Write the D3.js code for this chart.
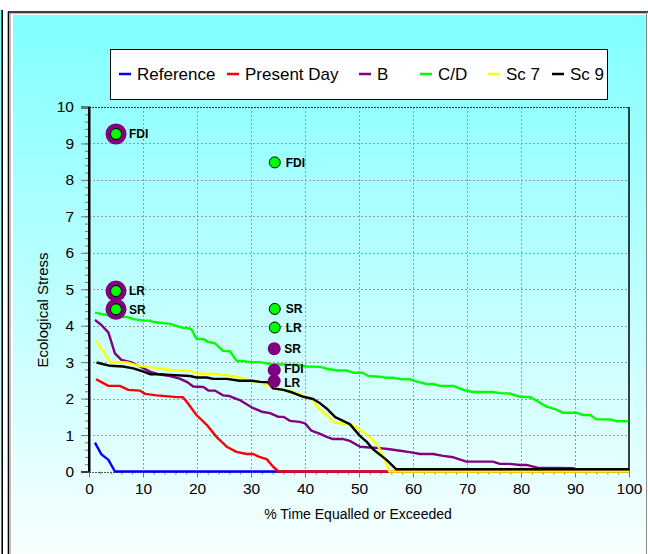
<!DOCTYPE html>
<html>
<head>
<meta charset="utf-8">
<script src="https://cdn.jsdelivr.net/npm/d3@7"></script>
<style>
  body { margin: 0; background: #fff; }
  svg { display: block; font-family: "Liberation Sans", Arial, sans-serif; }
</style>
</head>
<body>
<div id="chart"></div>
<script>
const WIDTH = 648
const HEIGHT = 554

// series names + colours (legend order = draw order)
const seriesNames = ['Reference', 'Present Day', 'B', 'C/D', 'Sc 7', 'Sc 9']
const seriesColors = ['#0000ff', '#ff0000', '#800080', '#00ff00', '#ffff00', '#000000']

// % time equalled or exceeded, ecological stress
const reference = [[1.1, 0.79], [2.3, 0.47], [3.6, 0.32], [4.8, 0], [100, 0]]
const presentDay = [[1.3, 2.53], [2.2, 2.46], [3.6, 2.35], [5.7, 2.35], [7.3, 2.24], [9.4, 2.22], [10.4, 2.13],
  [12.5, 2.09], [14.7, 2.06], [16.2, 2.04], [17.4, 2.04], [18.3, 1.87], [19.9, 1.55], [21.8, 1.28], [23.6, 0.95],
  [25.5, 0.68], [27.3, 0.54], [29.2, 0.48], [30.4, 0.48], [31.4, 0.41], [32.9, 0.34], [34.1, 0.13], [35.1, 0], [100, 0]]
const scenarioB = [[1.1, 4.16], [2.3, 4.02], [3.6, 3.81], [4.8, 3.24], [6.0, 3.06], [7.9, 2.99], [9.4, 2.88],
  [11.3, 2.74], [13.1, 2.66], [15.0, 2.62], [16.8, 2.55], [18.1, 2.46], [19.3, 2.33], [21.2, 2.32], [22.1, 2.22],
  [23.3, 2.22], [24.8, 2.09], [26.0, 2.07], [27.9, 1.96], [30.1, 1.76], [32.0, 1.64], [33.5, 1.6], [35.1, 1.5],
  [36.0, 1.5], [37.2, 1.39], [39.0, 1.36], [40.0, 1.32], [41.2, 1.12], [42.8, 1.03], [44.0, 0.95], [45.2, 0.89],
  [47.1, 0.89], [48.3, 0.84], [50.2, 0.68], [52.0, 0.66], [53.9, 0.64], [55.7, 0.61], [57.6, 0.57], [59.4, 0.53],
  [61.3, 0.48], [63.7, 0.48], [65.6, 0.43], [67.5, 0.39], [69.9, 0.27], [74.8, 0.27], [76.1, 0.21], [77.9, 0.21],
  [79.8, 0.18], [81.0, 0.18], [83.2, 0.1], [86.6, 0.1], [89.7, 0.09], [90.5, 0], [100, 0]]
const scenarioCD = [[1.1, 4.36], [4.8, 4.25], [7.0, 4.24], [8.2, 4.18], [10.1, 4.14], [11.3, 4.14], [11.9, 4.1],
  [15.0, 4.05], [17.4, 3.94], [18.4, 3.93], [19.0, 3.9], [19.9, 3.64], [21.2, 3.63], [22.1, 3.55], [23.3, 3.52],
  [24.8, 3.31], [26.1, 3.3], [27.3, 3.04], [28.5, 3.03], [29.8, 3.0], [31.6, 3.0], [33.5, 2.95], [36.6, 2.93],
  [39.0, 2.92], [40.3, 2.88], [42.8, 2.87], [44.0, 2.82], [45.9, 2.77], [47.7, 2.77], [48.9, 2.71], [50.7, 2.71],
  [51.7, 2.62], [53.9, 2.6], [55.1, 2.57], [56.4, 2.57], [57.9, 2.53], [59.4, 2.53], [60.9, 2.46], [62.5, 2.4],
  [63.7, 2.4], [65.0, 2.35], [67.5, 2.35], [69.3, 2.24], [71.1, 2.18], [74.8, 2.18], [76.1, 2.15], [77.9, 2.14],
  [79.8, 2.05], [81.7, 2.04], [82.9, 1.94], [84.7, 1.78], [86.3, 1.71], [87.8, 1.61], [90.3, 1.61], [91.5, 1.55],
  [92.8, 1.55], [94.0, 1.43], [96.5, 1.43], [97.7, 1.38], [99.9, 1.38]]
const scenario7 = [[1.3, 3.59], [2.5, 3.33], [3.9, 3.01], [7.0, 2.99], [9.4, 2.89], [11.9, 2.85], [14.4, 2.8],
  [16.2, 2.77], [18.7, 2.76], [19.9, 2.69], [23.0, 2.68], [25.5, 2.64], [27.3, 2.6], [29.2, 2.51], [31.0, 2.46],
  [32.9, 2.4], [34.1, 2.28], [36.0, 2.24], [37.8, 2.19], [40.3, 2.04], [41.5, 1.96], [42.5, 1.73], [44.0, 1.55],
  [45.6, 1.33], [48.3, 1.3], [49.6, 1.21], [50.7, 1.09], [52.3, 0.91], [53.6, 0.68], [54.5, 0.41], [55.6, 0], [100, 0]]
const scenario9 = [[1.4, 2.99], [3.9, 2.9], [6.3, 2.88], [8.2, 2.83], [10.1, 2.74], [11.3, 2.67], [13.1, 2.67],
  [15.0, 2.65], [18.7, 2.62], [19.9, 2.58], [21.8, 2.58], [23.0, 2.54], [25.5, 2.54], [27.9, 2.49], [30.1, 2.49],
  [31.7, 2.46], [33.2, 2.45], [34.1, 2.28], [36.0, 2.24], [37.8, 2.16], [39.7, 2.05], [41.5, 1.99], [42.8, 1.87],
  [44.0, 1.73], [45.6, 1.49], [48.3, 1.3], [50.2, 0.97], [51.4, 0.82], [52.6, 0.61], [55.1, 0.32], [56.9, 0.06], [100, 0.06]]
const allSeries = [reference, presentDay, scenarioB, scenarioCD, scenario7, scenario9]

// point markers: [x, y, label]
const ringMarkers = [[5.0, 9.26, 'FDI'], [5.0, 4.95, 'LR'], [5.0, 4.45, 'SR']]
const greenMarkers = [[34.4, 8.48, 'FDI'], [34.4, 4.46, 'SR'], [34.4, 3.95, 'LR']]
const purpleMarkers = [[34.3, 3.37, 'SR'], [34.3, 2.78, 'FDI'], [34.3, 2.48, 'LR']]

const xTicks = d3.range(0, 101, 10)
const yTicks = d3.range(0, 11, 1)

const svg = d3.select('#chart').append('svg')
  .attr('width', WIDTH)
  .attr('height', HEIGHT)

const defs = svg.append('defs')
const grad = defs.append('linearGradient')
  .attr('id', 'bg')
  .attr('gradientUnits', 'userSpaceOnUse')
  .attr('x1', 0).attr('y1', 15).attr('x2', 0).attr('y2', HEIGHT)
grad.append('stop').attr('offset', 0).attr('stop-color', '#80ffff')
grad.append('stop').attr('offset', 1).attr('stop-color', '#f8ffff')

// frame bits
svg.append('rect').attr('x', 0).attr('y', 10).attr('width', 1.5).attr('height', HEIGHT - 10).attr('fill', 'url(#bg)')
svg.append('line').attr('x1', 2.2).attr('x2', 2.2).attr('y1', 10).attr('y2', HEIGHT)
  .attr('stroke', '#000').attr('stroke-width', 1.6)
svg.append('rect').attr('x', 13).attr('y', 15).attr('width', 633).attr('height', HEIGHT - 15).attr('fill', 'url(#bg)')
svg.append('line').attr('x1', 8.5).attr('x2', 8.5).attr('y1', 11.5).attr('y2', HEIGHT)
  .attr('stroke', '#000').attr('stroke-width', 1.6)
svg.append('line').attr('x1', 8).attr('x2', WIDTH).attr('y1', 12).attr('y2', 12)
  .attr('stroke', '#000').attr('stroke-width', 1.6)
svg.append('line').attr('x1', 10.5).attr('x2', 10.5).attr('y1', 13.5).attr('y2', HEIGHT)
  .attr('stroke', '#bbb').attr('stroke-width', 1)
svg.append('line').attr('x1', 10).attr('x2', 646).attr('y1', 13.5).attr('y2', 13.5)
  .attr('stroke', '#bbb').attr('stroke-width', 1)
svg.append('line').attr('x1', 646.5).attr('x2', 646.5).attr('y1', 12).attr('y2', HEIGHT)
  .attr('stroke', '#888').attr('stroke-width', 1)

const x = d3.scaleLinear().domain([0, 100]).range([89, 629])
const y = d3.scaleLinear().domain([0, 10]).range([471.5, 107])

// grid
const grid = svg.append('g')
grid.selectAll('.vg').data(xTicks.slice(1, -1)).enter().append('line')
  .attr('x1', d => Math.round(x(d)) + 0.5).attr('x2', d => Math.round(x(d)) + 0.5)
  .attr('y1', y(10)).attr('y2', y(0))
  .attr('stroke', '#999').attr('stroke-dasharray', '2,2')
grid.selectAll('.hg').data(yTicks.slice(1, -1)).enter().append('line')
  .attr('x1', x(0)).attr('x2', x(100))
  .attr('y1', d => Math.round(y(d)) + 0.5).attr('y2', d => Math.round(y(d)) + 0.5)
  .attr('stroke', '#999').attr('stroke-dasharray', '2,2')

// top + bottom border (dotted), right border solid
svg.append('line').attr('x1', x(0)).attr('x2', x(100)).attr('y1', Math.round(y(10)) + 0.5).attr('y2', Math.round(y(10)) + 0.5)
  .attr('stroke', '#333').attr('stroke-dasharray', '2,1')
svg.append('line').attr('x1', x(0)).attr('x2', x(100)).attr('y1', Math.round(y(0)) + 0.5).attr('y2', Math.round(y(0)) + 0.5)
  .attr('stroke', '#555').attr('stroke-dasharray', '2,1')
svg.append('line').attr('x1', x(100)).attr('x2', x(100)).attr('y1', y(10)).attr('y2', y(0))
  .attr('stroke', '#000').attr('stroke-width', 1.5)

// axes
const yMinor = svg.append('g').attr('transform', `translate(${x(0)},0)`)
  .call(d3.axisLeft(y).tickValues(d3.range(0, 10.01, 0.2)).tickSize(4).tickFormat(''))
yMinor.select('.domain').remove()
yMinor.selectAll('line').attr('stroke', '#777')

const yAxis = svg.append('g').attr('transform', `translate(${x(0)},0)`)
  .call(d3.axisLeft(y).tickValues(yTicks).tickSize(8).tickPadding(7).tickFormat(d3.format('d')))
yAxis.select('.domain').attr('stroke', '#000').attr('stroke-width', 2)
yAxis.selectAll('line').attr('stroke', '#777')
yAxis.selectAll('text').attr('font-size', 15.5).attr('fill', '#000')
  .attr('font-family', '"Liberation Sans", Arial, sans-serif')

const xMinor = svg.append('g').attr('transform', `translate(0,${y(0)})`)
  .call(d3.axisBottom(x).tickValues(d3.range(0, 100.01, 2)).tickSize(3).tickFormat(''))
xMinor.select('.domain').remove()
xMinor.selectAll('line').attr('stroke', '#777')

const xAxis = svg.append('g').attr('transform', `translate(0,${y(0)})`)
  .call(d3.axisBottom(x).tickValues(xTicks).tickSize(6).tickPadding(5).tickFormat(d3.format('d')))
xAxis.select('.domain').remove()
xAxis.selectAll('line').attr('stroke', '#777')
xAxis.selectAll('text').attr('font-size', 15.5).attr('fill', '#000')
  .attr('font-family', '"Liberation Sans", Arial, sans-serif')

// titles
svg.append('text')
  .attr('x', 358).attr('y', 519)
  .attr('text-anchor', 'middle')
  .attr('font-size', 14)
  .text('% Time Equalled or Exceeded')
svg.append('text')
  .attr('transform', 'translate(48,310) rotate(-90)')
  .attr('text-anchor', 'middle')
  .attr('font-size', 15)
  .text('Ecological Stress')

// series lines
const line = d3.line().x(d => x(d[0])).y(d => y(d[1]))
svg.append('g').selectAll('path')
  .data(allSeries)
  .enter().append('path')
  .attr('d', line)
  .attr('fill', 'none')
  .attr('stroke', (d, i) => seriesColors[i])
  .attr('stroke-width', 2.4)
  .attr('stroke-linejoin', 'round')

// left axis drawn again on top so lines don't cover it
svg.append('line').attr('x1', x(0)).attr('x2', x(0)).attr('y1', y(10)).attr('y2', y(0))
  .attr('stroke', '#000').attr('stroke-width', 2)

// markers
const mk = svg.append('g')
mk.selectAll('.ring').data(ringMarkers).enter().append('circle')
  .attr('cx', d => x(d[0])).attr('cy', d => y(d[1])).attr('r', 10.5)
  .attr('fill', '#800080')
mk.selectAll('.ringIn').data(ringMarkers).enter().append('circle')
  .attr('cx', d => x(d[0])).attr('cy', d => y(d[1])).attr('r', 5.5)
  .attr('fill', '#00ff00').attr('stroke', '#000').attr('stroke-width', 1)
mk.selectAll('.grn').data(greenMarkers).enter().append('circle')
  .attr('cx', d => x(d[0])).attr('cy', d => y(d[1])).attr('r', 5.5)
  .attr('fill', '#00ff00').attr('stroke', '#000').attr('stroke-width', 1)
mk.selectAll('.prp').data(purpleMarkers).enter().append('circle')
  .attr('cx', d => x(d[0])).attr('cy', d => y(d[1])).attr('r', 6.5)
  .attr('fill', '#800080')

// the FDI/LR purple labels sit very close; nudge them apart a touch
const nudge = { 'FDI': -1.5, 'LR': 1.5 }
const labelled = ringMarkers.map(d => [d, 13, 0])
  .concat(greenMarkers.map(d => [d, 11, 0]), purpleMarkers.map(d => [d, 10, d[1] < 3 ? nudge[d[2]] : 0]))
mk.selectAll('.lbl').data(labelled).enter().append('text')
  .attr('x', d => x(d[0][0]) + d[1])
  .attr('y', d => y(d[0][1]) + d[2])
  .attr('dy', '0.36em')
  .attr('font-size', 12)
  .attr('font-weight', 'bold')
  .text(d => d[0][2])

// legend
const legend = svg.append('g')
legend.append('rect')
  .attr('x', 110.5).attr('y', 49.5).attr('width', 497).attr('height', 50)
  .attr('fill', '#fff').attr('stroke', '#000').attr('stroke-width', 1)
const legendX = [119, 227, 359, 420, 488, 552]
const item = legend.selectAll('.item').data(seriesNames).enter().append('g')
  .attr('transform', (d, i) => `translate(${legendX[i]},74)`)
item.append('line')
  .attr('x1', 0).attr('x2', 12).attr('y1', 0).attr('y2', 0)
  .attr('stroke', (d, i) => seriesColors[i]).attr('stroke-width', 2.5)
item.append('text')
  .attr('x', 18).attr('dy', '0.36em')
  .attr('font-size', 17)
  .text(d => d)
</script>
</body>
</html>
